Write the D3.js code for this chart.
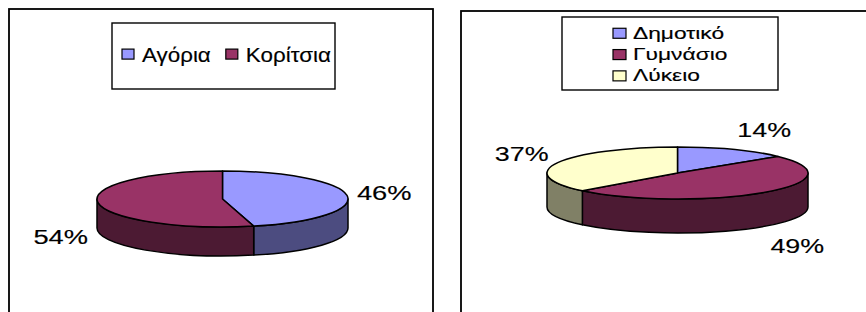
<!DOCTYPE html>
<html>
<head>
<meta charset="utf-8">
<script src="https://cdn.jsdelivr.net/npm/d3@7"></script>
<style>
body { margin: 0; background: #fff; }
svg { display: block; font-family: Arial, "Liberation Sans", sans-serif; }
text { fill: #000; stroke: #000; stroke-width: 0.15px; }
</style>
</head>
<body>
<svg width="866" height="312"></svg>
<script>
// data
var genderLabels = ["Αγόρια", "Κορίτσια"];
var genderValues = [46, 54];

var levelLabels = ["Δημοτικό", "Γυμνάσιο", "Λύκειο"];
var levelValues = [14, 49, 37];

var topColors = ["#9999ff", "#993366", "#ffffcc"];
var sideColors = ["#4c4c80", "#4c1a33", "#808066"];

var svg = d3.select("svg");

function drawPie(o) {
  var data = o.labels.map(function(l, i) { return {label: l, value: o.values[i]}; });
  var top = d3.scaleOrdinal().domain(o.labels).range(topColors);
  var side = d3.scaleOrdinal().domain(o.labels).range(sideColors);
  var arcs = d3.pie().sort(null).value(function(d) { return d.value; })(data);
  var PI = Math.PI;

  function pt(a, dy) {
    return [o.cx + o.rx * Math.sin(a), o.cy - o.ry * Math.cos(a) + (dy || 0)];
  }
  var A = "A" + o.rx + "," + o.ry + " 0 ";

  var g = svg.append("g");

  // panel frame
  g.append("rect")
    .attr("x", o.frame[0]).attr("y", o.frame[1])
    .attr("width", o.frame[2]).attr("height", 400)
    .attr("fill", "none").attr("stroke", "#000").attr("stroke-width", 1.8);

  // side walls (front half only)
  g.selectAll(".side")
    .data(arcs.filter(function(d) { return Math.min(d.endAngle, 1.5 * PI) > Math.max(d.startAngle, PI / 2); }))
    .enter().append("path")
    .attr("class", "side")
    .attr("d", function(d) {
      var s = Math.max(d.startAngle, PI / 2), e = Math.min(d.endAngle, 1.5 * PI);
      return "M" + pt(s) + A + "0 1 " + pt(e) + "L" + pt(e, o.depth) + A + "0 0 " + pt(s, o.depth) + "Z";
    })
    .attr("fill", function(d) { return side(d.data.label); })
    .attr("stroke", "#000").attr("stroke-width", 1.5).attr("stroke-linejoin", "round");

  // top faces
  g.selectAll(".top")
    .data(arcs)
    .enter().append("path")
    .attr("class", "top")
    .attr("d", function(d) {
      var big = d.endAngle - d.startAngle > PI ? 1 : 0;
      return "M" + o.cx + "," + o.cy + "L" + pt(d.startAngle) + A + big + " 1 " + pt(d.endAngle) + "Z";
    })
    .attr("fill", function(d) { return top(d.data.label); })
    .attr("stroke", "#000").attr("stroke-width", 1.5).attr("stroke-linejoin", "round");

  // percentage labels
  g.selectAll(".lbl")
    .data(arcs)
    .enter().append("text")
    .attr("class", "lbl")
    .attr("font-size", o.labelSize)
    .attr("text-anchor", function(d) { return Math.sin((d.startAngle + d.endAngle) / 2) > 0 ? "start" : "end"; })
    .attr("transform", function(d) {
      var m = (d.startAngle + d.endAngle) / 2;
      var x = o.cx + (o.rx + 10) * Math.sin(m);
      var y = o.cy - (o.ry + 22) * Math.cos(m) + (Math.cos(m) < 0 ? o.depth + 2 : 0);
      return "translate(" + x + "," + (y + 0.36 * o.labelSize) + ") scale(" + o.labelStretch + ",1)";
    })
    .text(function(d) { return d.data.value + "%"; });

  // legend
  var L = o.legend;
  g.append("rect")
    .attr("x", L.x).attr("y", L.y).attr("width", L.w).attr("height", L.h)
    .attr("fill", "#fff").attr("stroke", "#000").attr("stroke-width", 1.4);

  var px = L.ix, py = L.iy;
  data.forEach(function(d) {
    g.append("rect")
      .attr("x", px).attr("y", py - L.size * 0.62)
      .attr("width", L.sw).attr("height", L.sh)
      .attr("fill", top(d.label)).attr("stroke", "#000").attr("stroke-width", 1.2);
    var t = g.append("text")
      .attr("font-size", L.size)
      .attr("transform", "translate(" + (px + L.sw + L.gap) + "," + py + ") scale(" + L.stretch + ",1)")
      .text(d.label);
    if (L.row) px += L.sw + L.gap + t.node().getComputedTextLength() * L.stretch + L.itemGap;
    else py += L.pitch;
  });
}

drawPie({
  labels: genderLabels, values: genderValues,
  frame: [9, 9, 424],
  cx: 222.5, cy: 199, rx: 125.5, ry: 28, depth: 29,
  labelSize: 21, labelStretch: 1.3,
  legend: {x: 112, y: 23, w: 223, h: 66, row: true, ix: 122, iy: 61.5,
           size: 20, stretch: 1.12, sw: 12, sh: 10, gap: 8, itemGap: 15}
});

drawPie({
  labels: levelLabels, values: levelValues,
  frame: [461, 11, 420],
  cx: 677.5, cy: 173, rx: 130.5, ry: 26, depth: 34,
  labelSize: 21, labelStretch: 1.28,
  legend: {x: 562, y: 17, w: 216, h: 73, row: false, ix: 613, iy: 38.5, pitch: 21.3,
           size: 16.5, stretch: 1.38, sw: 13, sh: 10, gap: 7}
});
</script>
</body>
</html>
